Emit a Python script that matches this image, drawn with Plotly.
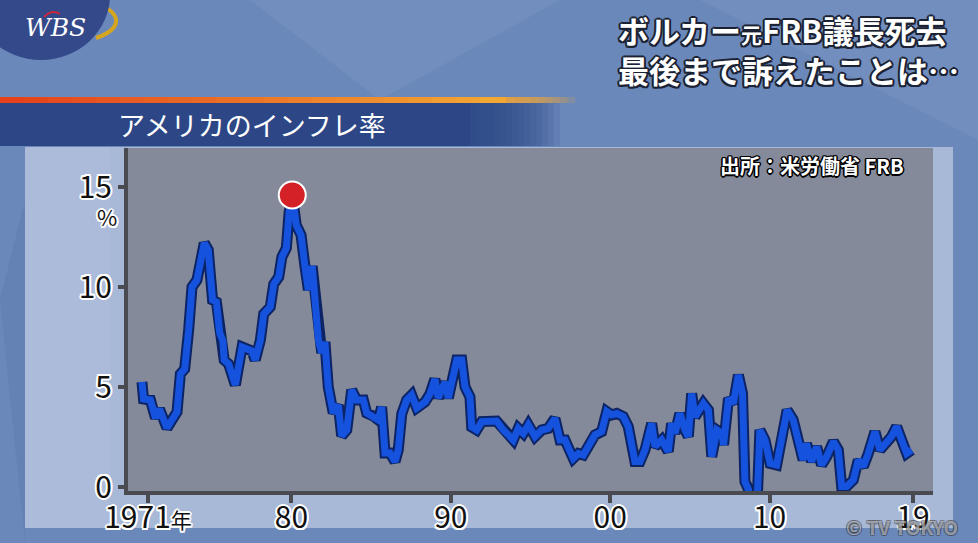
import plotly.graph_objects as go

# ---- data ----
years = [1970.62, 1970.72, 1971.15, 1971.35, 1971.47, 1971.72, 1971.95, 1972.19, 1972.50, 1972.82,
         1973.03, 1973.30, 1973.55, 1973.76, 1974.07, 1974.28, 1974.53, 1974.78, 1975.05, 1975.29,
         1975.50, 1975.70, 1975.78, 1976.06, 1976.25, 1976.48, 1976.90, 1977.21, 1977.52, 1977.73,
         1978.05, 1978.26, 1978.67, 1978.89, 1979.20, 1979.40, 1979.68, 1979.85, 1980.05, 1980.30,
         1980.60, 1980.85, 1981.06, 1981.30, 1981.50, 1981.69, 1981.90, 1982.10, 1982.31, 1982.62,
         1982.94, 1983.15, 1983.47, 1983.78, 1984.09, 1984.51, 1984.72, 1985.13, 1985.45, 1985.66,
         1985.87, 1986.18, 1986.50, 1986.70, 1986.92, 1987.23, 1987.54, 1987.86, 1988.38, 1988.69,
         1989.00, 1989.21, 1989.63, 1989.84, 1990.15, 1990.37, 1990.68, 1990.89, 1991.20, 1991.31,
         1991.62, 1991.94, 1992.87, 1993.29, 1993.92, 1994.23, 1994.55, 1994.86, 1995.28, 1995.70,
         1996.11, 1996.53, 1996.85, 1997.16, 1997.68, 1998.00, 1998.31, 1998.73, 1999.04, 1999.46,
         1999.78, 2000.09, 2000.41, 2000.82, 2001.13, 2001.55, 2001.87, 2002.18, 2002.60, 2002.81,
         2003.23, 2003.64, 2003.85, 2004.06, 2004.37, 2004.69, 2004.90, 2005.11, 2005.32, 2005.84,
         2006.16, 2006.37, 2006.69, 2007.00, 2007.11, 2007.42, 2007.73, 2008.04, 2008.30, 2008.45,
         2008.66, 2008.90, 2009.10, 2009.25, 2009.39, 2009.71, 2010.03, 2010.44, 2010.76, 2011.10,
         2011.48, 2011.90, 2012.10, 2012.31, 2012.63, 2012.95, 2013.26, 2013.58, 2014.00, 2014.31,
         2014.52, 2014.83, 2015.25, 2015.56, 2015.88, 2016.19, 2016.61, 2016.92, 2017.34, 2017.65,
         2017.97, 2018.28, 2018.60, 2018.91]
inflation = [5.25, 4.40, 4.35, 3.75, 3.45, 3.90, 3.50, 2.95, 3.35, 3.75,
             5.65, 5.90, 7.85, 10.00, 10.35, 11.30, 12.20, 11.85, 9.35, 9.25,
             7.70, 7.30, 6.35, 6.15, 5.70, 5.10, 7.00, 6.85, 6.80, 6.35,
             7.35, 8.65, 9.00, 10.15, 10.50, 11.50, 11.95, 13.70, 14.60, 13.10,
             12.60, 11.02, 9.85, 11.05, 9.50, 7.35, 6.70, 7.25, 5.00, 3.70,
             4.10, 2.55, 2.85, 4.85, 4.35, 4.35, 3.70, 3.55, 3.35, 4.00,
             1.70, 1.70, 1.27, 1.85, 3.65, 4.35, 4.60, 3.95, 4.25, 4.65,
             5.40, 4.45, 5.25, 4.45, 5.85, 6.35, 6.35, 5.00, 4.50, 3.00,
             2.85, 3.27, 3.30, 2.85, 2.35, 2.93, 2.68, 3.10, 2.52, 2.85,
             2.93, 3.43, 2.35, 2.35, 1.43, 1.68, 1.60, 2.18, 2.60, 2.77,
             3.77, 3.60, 3.68, 3.52, 3.02, 1.27, 1.27, 1.85, 3.18, 2.02,
             2.35, 1.77, 3.18, 2.68, 3.68, 2.85, 2.52, 4.68, 3.50, 4.18,
             3.85, 1.52, 2.85, 2.68, 2.10, 4.43, 4.18, 5.60, 4.68, 0.27,
             -0.10, -1.20, -1.00, -0.10, 2.85, 2.35, 1.18, 1.10, 2.68, 3.85,
             3.35, 2.02, 1.35, 2.18, 1.27, 2.02, 1.10, 1.52, 2.27, 1.85,
             0.02, 0.02, 0.35, 1.35, 1.02, 1.68, 2.77, 1.85, 2.18, 2.52,
             3.02, 2.35, 1.68, 1.85]

x_tick_vals = [1971, 1980, 1990, 2000, 2010, 2019]
x_tick_text = ["1971<span style='font-size:21px'>年</span>", "80", "90", "00", "10", "19"]
y_tick_vals = [0, 5, 10, 15]
y_tick_text = ["0", "5", "10", "15"]

title_text = "アメリカのインフレ率"
headline1 = "ボルカー<span style='font-size:21px'>元</span>FRB議長死去"
headline2 = "最後まで訴えたことは…"
source_text = "出所：米労働省 FRB"
copyright_text = "© TV TOKYO"

# ---- geometry helpers (pixel -> paper) ----
W, H = 978, 543
L, R, T, B = 128, 933, 148, 491
def fx(px):
    return (px - L) / (R - L)
def fy(py):
    return (B - py) / (B - T)

FONT = "Noto Sans CJK JP, Noto Sans, sans-serif"
WHITE_OUTLINE = ("2px 0 0 #fff, -2px 0 0 #fff, 0 2px 0 #fff, 0 -2px 0 #fff, "
                 "1.5px 1.5px 0 #fff, -1.5px -1.5px 0 #fff, 1.5px -1.5px 0 #fff, -1.5px 1.5px 0 #fff")
DARK_OUTLINE = ("2px 0 0 #1b2233, -2px 0 0 #1b2233, 0 2px 0 #1b2233, 0 -2px 0 #1b2233, "
                "1.5px 1.5px 0 #1b2233, -1.5px -1.5px 0 #1b2233, 1.5px -1.5px 0 #1b2233, -1.5px 1.5px 0 #1b2233")
BLACK_OUTLINE = ("1.5px 0 0 #000, -1.5px 0 0 #000, 0 1.5px 0 #000, 0 -1.5px 0 #000, "
                 "1px 1px 0 #000, -1px -1px 0 #000, 1px -1px 0 #000, -1px 1px 0 #000")

def rect(x0, y0, x1, y1, color, layer="below"):
    return dict(type="rect", xref="paper", yref="paper",
                x0=fx(x0), x1=fx(x1), y0=fy(y1), y1=fy(y0),
                fillcolor=color, line=dict(width=0), layer=layer)

def poly(points, color):
    d = "M " + " L ".join("{} {}".format(fx(px), fy(py)) for px, py in points) + " Z"
    return dict(type="path", xref="paper", yref="paper", layer="below",
                path=d, fillcolor=color, line=dict(width=0))

shapes = []
# full background
shapes.append(rect(0, 0, W, H, "#6b88bb"))
# subtle diagonal facets
shapes.append(poly([(250, 0), (560, 0), (380, 100)], "rgba(255,255,255,0.05)"))
shapes.append(poly([(700, 0), (978, 0), (978, 140)], "rgba(255,255,255,0.05)"))
shapes.append(poly([(0, 300), (25, 200), (25, 543)], "rgba(0,20,80,0.05)"))
# light panel around chart
shapes.append(rect(25, 147, 953, 528, "#a8b8d7"))
shapes.append(rect(25, 147, 110, 528, "rgba(255,255,255,0.05)"))
# plot area
shapes.append(rect(L, T, R, B, "#848a99"))
# dark title band with smooth fade (overlapping layers)
shapes.append(rect(0, 103, 470, 146, "#2d4786"))
for k in range(1, 16):
    shapes.append(rect(466, 103, 470 + k * 6, 146, "rgba(45,71,134,0.15)"))
# orange gradient rule
c0 = (229, 66, 28)
c1 = (243, 168, 52)
nseg = 21
for i in range(nseg):
    t = i / (nseg - 1)
    col = tuple(int(c0[k] + (c1[k] - c0[k]) * t) for k in range(3))
    shapes.append(rect(i * 24, 97, i * 24 + 26, 103,
                       "rgb({},{},{})".format(*col)))
for k in range(1, 11):
    shapes.append(rect(500, 97, 500 + k * 7.5, 103, "rgba(243,168,52,0.18)"))
# WBS logo
shapes.append(dict(type="path", xref="paper", yref="paper", layer="below",
                   path="M {} {} C {} {}, {} {}, {} {}".format(fx(68), fy(-2), fx(118), fy(2),
                                                               fx(132), fy(26), fx(96), fy(38)),
                   line=dict(color="#d6a51e", width=4)))
shapes.append(dict(type="circle", xref="paper", yref="paper", layer="below",
                   x0=fx(-28), x1=fx(110), y0=fy(60), y1=fy(-70),
                   fillcolor="#34498a", line=dict(width=0)))
shapes.append(dict(type="path", xref="paper", yref="paper", layer="below",
                   path="M {} {} Q {} {}, {} {}".format(fx(44), fy(17), fx(52), fy(9), fx(60), fy(14)),
                   line=dict(color="#c8283a", width=2)))

fig = go.Figure()

# outline of the line
fig.add_trace(go.Scatter(x=years, y=inflation, mode="lines",
                         line=dict(color="#0c2466", width=11),
                         hoverinfo="skip", showlegend=False))
fig.add_trace(go.Scatter(x=years, y=inflation, mode="lines",
                         line=dict(color="#1553de", width=7),
                         showlegend=False))
# peak marker
imax = max(range(len(inflation)), key=lambda i: inflation[i])
fig.add_trace(go.Scatter(x=[years[imax]], y=[inflation[imax]], mode="markers",
                         marker=dict(size=27, color="#d42127", line=dict(color="#ffffff", width=2)),
                         cliponaxis=False, showlegend=False))

annotations = [
    dict(text=title_text, x=fx(116), y=fy(125), xanchor="left", yanchor="middle",
         font=dict(family=FONT, size=27, color="#ffffff")),
    dict(text=headline1, x=fx(616), y=fy(30), xanchor="left", yanchor="middle",
         font=dict(family=FONT, size=31, color="#ffffff", weight="bold", shadow=DARK_OUTLINE)),
    dict(text=headline2, x=fx(616), y=fy(69), xanchor="left", yanchor="middle",
         font=dict(family=FONT, size=31, color="#ffffff", weight="bold", shadow=DARK_OUTLINE)),
    dict(text=source_text, x=fx(906), y=fy(165), xanchor="right", yanchor="middle",
         font=dict(family=FONT, size=20, color="#ffffff", weight="bold", shadow=BLACK_OUTLINE)),
    dict(text="%", x=fx(119), y=fy(216), xanchor="right", yanchor="middle",
         font=dict(family=FONT, size=22, color="#111111", shadow=WHITE_OUTLINE)),
    dict(text=copyright_text, x=fx(902), y=fy(526), xanchor="center", yanchor="middle",
         font=dict(family=FONT, size=19, color="rgba(205,208,215,0.6)", weight="bold",
                   shadow="1px 1px 0 rgba(40,40,40,0.6), -1px -1px 0 rgba(40,40,40,0.6), "
                          "1px -1px 0 rgba(40,40,40,0.6), -1px 1px 0 rgba(40,40,40,0.6)")),
    dict(text="<i>WBS</i>", x=fx(55), y=fy(28), xanchor="center", yanchor="middle",
         font=dict(family="DejaVu Serif, Liberation Serif, serif", size=25, color="#ffffff")),
]
for a in annotations:
    a.update(xref="paper", yref="paper", showarrow=False)

fig.update_layout(
    width=W, height=H, autosize=False,
    margin=dict(l=L, r=W - R, t=T, b=H - B, pad=0, autoexpand=False),
    paper_bgcolor="#6b88bb",
    plot_bgcolor="rgba(0,0,0,0)",
    shapes=shapes,
    annotations=annotations,
    showlegend=False,
    xaxis=dict(range=[1969.745, 2020.25], showgrid=False, zeroline=False, automargin=False,
               showline=True, linecolor="#4a4b50", linewidth=4,
               ticks="outside", ticklen=8, tickwidth=4, tickcolor="#4a4b50",
               ticklabelstandoff=-11,
               tickvals=x_tick_vals, ticktext=x_tick_text,
               tickfont=dict(family=FONT, size=30, color="#111111", shadow=WHITE_OUTLINE),
               fixedrange=True),
    yaxis=dict(range=[-0.2, 16.95], showgrid=False, zeroline=False, automargin=False,
               showline=True, linecolor="#4a4b50", linewidth=4,
               ticks="outside", ticklen=6, tickwidth=4, tickcolor="#4a4b50",
               tickvals=y_tick_vals, ticktext=y_tick_text,
               tickfont=dict(family=FONT, size=30, color="#111111", shadow=WHITE_OUTLINE),
               fixedrange=True),
)

fig.write_html("out.html", config={"displayModeBar": False},
               post_script="document.body.style.margin='0';document.body.style.overflow='hidden';")
